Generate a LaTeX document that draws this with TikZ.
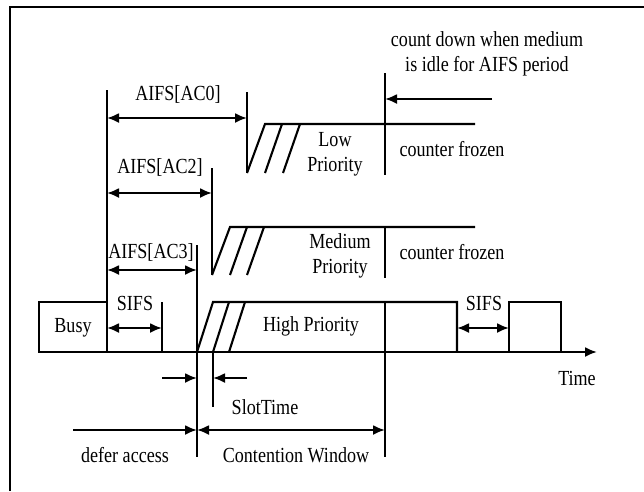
\documentclass[tikz,border=0pt]{standalone}
\usepackage{fontspec}
\setmainfont[FakeStretch=0.84]{Liberation Serif}
\usetikzlibrary{arrows.meta}
\begin{document}
\begin{tikzpicture}[x=1pt,y=-1pt,
  ln/.style={line width=2.1pt,line cap=butt},
  tip/.style={-{Latex[length=12pt,width=10pt]}},
  tips/.style={{Latex[length=12pt,width=10pt]}-{Latex[length=12pt,width=10pt]}},
  lbl/.style={font=\fontsize{21.5}{25}\selectfont,inner sep=0pt,align=center}]
\useasboundingbox (0,0) rectangle (644,491);
% frame
\draw[line width=2.2pt] (10,491) -- (10,7) -- (644,7);
% coordinates
\coordinate (b0) at (107,352);
\coordinate (b0t) at (107,90);
\coordinate (s1) at (162,352);
\coordinate (s1t) at (162,302);
\coordinate (c3) at (197,457);
\coordinate (c3t) at (197,245);
\coordinate (c2b) at (212,275);
\coordinate (c2t) at (212,168);
\coordinate (c0b) at (247,173);
\coordinate (c0t) at (247,92);
\coordinate (cwt) at (385,73);
\coordinate (cwb) at (385,175);
% time axis
\draw[ln,tip] (38,352) coordinate (ax0) -- (597,352) coordinate (ax1);
\node[lbl] (time) at (577,378) {Time};
% busy box
\draw[ln] (39,352) -- (39,302) -- (107,302);
\node[lbl] (busy) at (73,328) {Busy};
\draw[ln] (b0t) -- (b0);
% SIFS left
\draw[ln] (s1t) -- (s1);
\coordinate (sa) at (107,328); \coordinate (sb) at (162,328);
\draw[ln,tips] (sa) -- (sb);
\node[lbl] (sifs1) at (135,303) {SIFS};
% AIFS AC0
\draw[ln] (c0t) -- (c0b);
\coordinate (a0a) at (107,118); \coordinate (a0b) at (247,118);
\draw[ln,tips] (a0a) -- (a0b);
\node[lbl] (aifs0) at (178,94) {AIFS[AC0]};
% low priority
\draw[ln] (c0b) -- (265,124) -- (475,124);
\draw[ln] (265,173) -- (282,124);
\draw[ln] (283,173) -- (300,124);
\node[lbl] (low) at (335,154) {Low\\Priority};
\draw[ln] (cwt) -- (cwb);
\node[lbl] (cf1) at (452,149) {counter frozen};
% count down
\coordinate (cda) at (492,99); \coordinate (cdb) at (385,99);
\draw[ln,tip] (cda) -- (cdb);
\node[lbl] (cd) at (487,54) {count down when medium\\is idle for AIFS period};
% AIFS AC2
\draw[ln] (c2t) -- (c2b);
\coordinate (a2a) at (107,193); \coordinate (a2b) at (212,193);
\draw[ln,tips] (a2a) -- (a2b);
\node[lbl] (aifs2) at (160,167) {AIFS[AC2]};
% medium priority
\draw[ln] (c2b) -- (230,227) -- (475,227);
\draw[ln] (230,275) -- (247,227);
\draw[ln] (247,275) -- (264,227);
\node[lbl] (med) at (340,256) {Medium\\Priority};
\draw[ln] (385,227) -- (385,278);
\node[lbl] (cf2) at (452,252) {counter frozen};
% AIFS AC3
\draw[ln] (c3t) -- (c3);
\coordinate (a3a) at (107,270); \coordinate (a3b) at (197,270);
\draw[ln,tips] (a3a) -- (a3b);
\node[lbl] (aifs3) at (151,252) {AIFS[AC3]};
% high priority
\draw[ln] (197,352) -- (213,302) -- (457,302) -- (457,352);
\draw[ln] (213,352) -- (229,302);
\draw[ln] (229,352) -- (245,302);
\node[lbl] (high) at (311,326) {High Priority};
\draw[ln] (385,302) -- (385,457);
% SIFS right
\coordinate (s2a) at (457,328); \coordinate (s2b) at (509,328);
\draw[ln,tips] (s2a) -- (s2b);
\node[lbl] (sifs2) at (484,303) {SIFS};
\draw[ln] (509,352) -- (509,302) -- (561,302) -- (561,352);
% slot time
\draw[ln] (213,352) -- (213,407);
\coordinate (st1) at (162,378); \coordinate (st2) at (197,378);
\coordinate (st3) at (247,378); \coordinate (st4) at (213,378);
\draw[ln,tip] (st1) -- (st2);
\draw[ln,tip] (st3) -- (st4);
\node[lbl] (slot) at (265,407) {SlotTime};
% defer / contention
\coordinate (da) at (73,430); \coordinate (db) at (197,430); \coordinate (dc) at (385,430);
\draw[ln,tip] (da) -- (db);
\draw[ln,tips] (db) -- (dc);
\node[lbl] (defer) at (125,455) {defer access};
\node[lbl] (cw) at (296,455) {Contention Window};
\end{tikzpicture}
\end{document}
